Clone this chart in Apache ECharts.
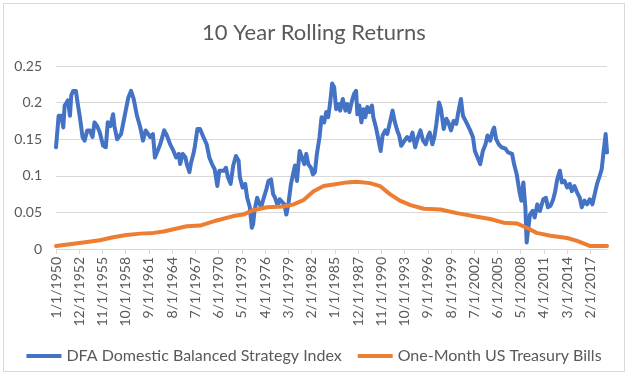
<!DOCTYPE html>
<html>
<head>
<meta charset="utf-8">
<script src="https://cdn.jsdelivr.net/npm/echarts@6/dist/echarts.min.js"></script>
<style>
html,body{margin:0;padding:0;background:#fff;}
#c{width:628px;height:379px;}
</style>
</head>
<body>
<div id="c"></div>
<script>
// Month index 0 = 1/1/1950
var tickLabels = ['1/1/1950','12/1/1952','11/1/1955','10/1/1958','9/1/1961','8/1/1964','7/1/1967','6/1/1970','5/1/1973','4/1/1976','3/1/1979','2/1/1982','1/1/1985','12/1/1987','11/1/1990','10/1/1993','9/1/1996','8/1/1999','7/1/2002','6/1/2005','5/1/2008','4/1/2011','3/1/2014','2/1/2017'];
var yTicks = [0, 0.05, 0.1, 0.15, 0.2, 0.25];

var dfaMonths = [0,4,5,8,11,13,16,18,21,23,26,30,32,36,40,43,47,51,55,58,62,66,71,75,78,82,86,88,92,95,98,103,109,113,117,122,127,131,135,138,142,146,149,153,157,163,167,172,177,181,185,187,191,195,197,201,203,207,209,213,217,222,227,231,235,239,243,246,249,253,256,259,263,267,271,275,277,281,285,288,292,295,297,299,303,306,309,313,317,320,324,327,330,334,337,340,344,347,350,354,357,360,363,367,370,374,377,380,384,387,390,393,397,400,404,407,410,413,416,419,422,426,428,432,436,439,442,446,449,452,454,457,460,463,466,469,472,476,478,482,486,489,492,496,499,503,507,510,514,517,520,525,529,533,537,541,545,549,553,557,560,563,567,570,573,577,580,584,588,591,595,599,603,606,610,613,617,620,624,628,631,635,639,643,647,650,654,658,660,663,667,671,677,681,687,690,694,698,701,704,707,709,711,714,718,721,725,729,734,738,741,745,749,752,755,759,762,766,770,774,777,781,785,789,792,796,800,804,808,811,815,819,822,825,828,830];
var dfaValues = [0.139,0.182,0.180,0.182,0.166,0.196,0.200,0.203,0.182,0.210,0.216,0.216,0.203,0.180,0.153,0.148,0.162,0.162,0.153,0.173,0.168,0.159,0.141,0.139,0.173,0.168,0.184,0.168,0.150,0.150,0.157,0.180,0.207,0.216,0.205,0.182,0.166,0.148,0.162,0.162,0.153,0.157,0.125,0.134,0.143,0.162,0.155,0.143,0.134,0.125,0.130,0.116,0.130,0.125,0.116,0.105,0.116,0.130,0.139,0.164,0.164,0.153,0.143,0.125,0.116,0.109,0.086,0.107,0.109,0.107,0.111,0.098,0.089,0.114,0.127,0.121,0.098,0.084,0.089,0.070,0.057,0.029,0.034,0.052,0.070,0.063,0.057,0.070,0.082,0.093,0.095,0.075,0.070,0.059,0.068,0.070,0.061,0.047,0.061,0.089,0.102,0.114,0.093,0.134,0.134,0.116,0.130,0.116,0.111,0.102,0.105,0.130,0.153,0.180,0.173,0.187,0.180,0.200,0.226,0.221,0.191,0.198,0.189,0.205,0.189,0.198,0.187,0.203,0.212,0.216,0.184,0.196,0.173,0.191,0.180,0.194,0.187,0.196,0.180,0.166,0.148,0.134,0.155,0.162,0.157,0.173,0.189,0.175,0.162,0.155,0.141,0.148,0.153,0.148,0.159,0.139,0.152,0.162,0.148,0.143,0.153,0.159,0.143,0.153,0.171,0.200,0.191,0.164,0.178,0.173,0.162,0.175,0.171,0.187,0.205,0.182,0.175,0.173,0.162,0.153,0.134,0.125,0.116,0.134,0.143,0.155,0.148,0.162,0.166,0.150,0.143,0.139,0.137,0.132,0.130,0.116,0.102,0.079,0.066,0.091,0.057,0.009,0.025,0.047,0.052,0.043,0.061,0.052,0.068,0.070,0.057,0.059,0.068,0.079,0.095,0.107,0.091,0.093,0.084,0.089,0.079,0.086,0.077,0.070,0.057,0.066,0.061,0.068,0.061,0.073,0.089,0.100,0.109,0.134,0.157,0.132];

var tbillMonths = [0,41,66,86,106,127,147,162,177,197,217,242,267,282,297,318,343,358,373,388,403,418,438,453,473,488,503,518,534,554,579,604,634,654,674,694,709,724,745,770,785,805,830];
var tbillValues = [0.004,0.009,0.012,0.016,0.019,0.021,0.022,0.024,0.027,0.031,0.032,0.039,0.045,0.047,0.053,0.057,0.058,0.061,0.067,0.079,0.086,0.088,0.091,0.092,0.090,0.086,0.075,0.066,0.060,0.055,0.054,0.049,0.044,0.041,0.036,0.035,0.029,0.022,0.018,0.015,0.011,0.004,0.004];

var seriesNames = ['DFA Domestic Balanced Strategy Index', 'One-Month US Treasury Bills'];

function zip(a, b) { return a.map(function (m, i) { return [m, b[i]]; }); }

var FONT = 'Lato';
var TXT = '#595959';
var chart = echarts.init(document.getElementById('c'), null, { renderer: 'canvas' });
chart.setOption({
  animation: false,
  backgroundColor: '#ffffff',
  textStyle: { fontFamily: FONT, color: TXT },
  graphic: [{
    type: 'rect', shape: { x: 3.5, y: 3.5, width: 621, height: 368 },
    style: { fill: 'none', stroke: '#d9d9d9', lineWidth: 1 }, silent: true
  }],
  title: {
    text: '10 Year Rolling Returns', left: 'center', top: 17,
    textStyle: { fontFamily: FONT, fontSize: 22, fontWeight: 'normal', color: TXT }
  },
  legend: {
    top: 343, left: 'center', icon: 'rect', itemWidth: 35, itemHeight: 4, itemGap: 16,
    textStyle: { fontFamily: FONT, fontSize: 16, color: TXT },
    data: seriesNames
  },
  grid: { left: 56, right: 21, top: 66, bottom: 130, outerBoundsMode: 'none' },
  xAxis: {
    type: 'value', min: 0, max: 830, interval: 35,
    axisLine: { show: true, lineStyle: { color: '#d9d9d9', width: 1 } },
    axisTick: { show: true, length: 5, lineStyle: { color: '#d9d9d9' } },
    splitLine: { show: false },
    axisLabel: {
      rotate: 90, margin: 8, fontFamily: FONT, fontSize: 14, color: TXT, showMaxLabel: false,
      formatter: function (v) { return (v % 35 === 0 && tickLabels[v / 35]) ? tickLabels[v / 35] : ''; }
    }
  },
  yAxis: {
    type: 'value', min: yTicks[0], max: yTicks[yTicks.length - 1], interval: 0.05,
    axisLine: { show: false }, axisTick: { show: false },
    splitLine: { lineStyle: { color: '#d9d9d9', width: 1 } },
    axisLabel: { margin: 14, fontFamily: FONT, fontSize: 14, color: TXT }
  },
  series: [
    { name: seriesNames[0], type: 'line', data: zip(dfaMonths, dfaValues), showSymbol: false,
      lineStyle: { color: '#4472c4', width: 4, join: 'round', cap: 'round' }, itemStyle: { color: '#4472c4' } },
    { name: seriesNames[1], type: 'line', data: zip(tbillMonths, tbillValues), showSymbol: false,
      lineStyle: { color: '#ed7d31', width: 4, join: 'round', cap: 'round' }, itemStyle: { color: '#ed7d31' } }
  ]
});
</script>
</body>
</html>
